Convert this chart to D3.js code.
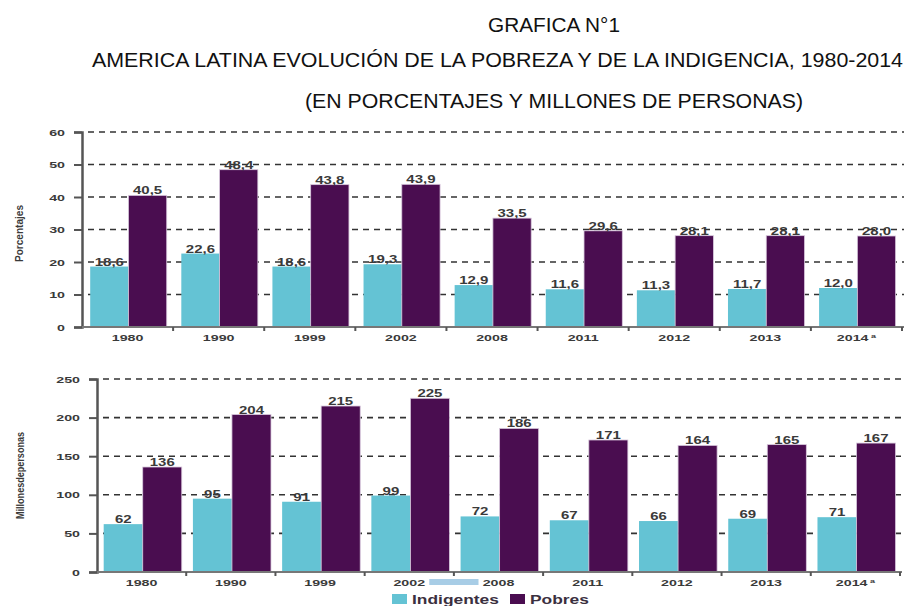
<!DOCTYPE html>
<html>
<head>
<meta charset="utf-8">
<script src="https://cdn.jsdelivr.net/npm/d3@7"></script>
<style>
  body { margin: 0; background: #fff; }
  svg { display: block; }
  text { font-family: "Liberation Sans", Arial, sans-serif; }
</style>
</head>
<body>
<svg id="chart" width="910" height="606"></svg>
<script>
var years = ["1980", "1990", "1999", "2002", "2008", "2011", "2012", "2013", "2014"];
var yearSup = ["", "", "", "", "", "", "", "", "a"];
var seriesNames = ["Indigentes", "Pobres"];
var colors = ["#64c3d4", "#4a0d50"];

// porcentajes
var pctIndigentes = [18.6, 22.6, 18.6, 19.3, 12.9, 11.6, 11.3, 11.7, 12.0];
var pctPobres = [40.5, 48.4, 43.8, 43.9, 33.5, 29.6, 28.1, 28.1, 28.0];
var pctTicks = [0, 10, 20, 30, 40, 50, 60];

// millones de personas
var milIndigentes = [62, 95, 91, 99, 72, 67, 66, 69, 71];
var milPobres = [136, 204, 215, 225, 186, 171, 164, 165, 167];
var milTicks = [0, 50, 100, 150, 200, 250];

var svg = d3.select("#chart");
var textColor = "#3a3a3a";
var stretch = 1.5;

// titles
var titles = [
    {t: "GRAFICA N°1", x: 488, y: 32, len: 132},
    {t: "AMERICA LATINA EVOLUCIÓN DE LA POBREZA Y DE LA INDIGENCIA, 1980-2014", x: 92, y: 67, len: 811},
    {t: "(EN PORCENTAJES Y MILLONES DE PERSONAS)", x: 305, y: 108, len: 498}
];
svg.selectAll("text.title")
    .data(titles).enter()
    .append("text")
    .attr("class", "title")
    .attr("x", function (d) { return d.x; })
    .attr("y", function (d) { return d.y; })
    .attr("textLength", function (d) { return d.len; })
    .attr("lengthAdjust", "spacingAndGlyphs")
    .style("font-size", "19.5px")
    .style("fill", "#111")
    .text(function (d) { return d.t; });

// stretched small text, like the blurry original
function wideText(g, x, y, str, size, anchor) {
    var t = g.append("text")
        .attr("transform", "translate(" + x + "," + y + ") scale(" + stretch + ",1)")
        .attr("text-anchor", anchor || "middle")
        .style("font-size", size + "px")
        .style("font-weight", "bold")
        .style("fill", textColor)
        .text(str);
    return t;
}

function drawPanel(opt) {
    var g = svg.append("g");
    var x0 = d3.scaleBand().domain(years).range([opt.left, opt.right]).padding(0);
    var bw = x0.bandwidth();
    var x1 = d3.scaleBand().domain(seriesNames).range([bw * opt.padL, bw * opt.padR]).padding(0);
    var y = d3.scaleLinear().domain([0, opt.max]).range([opt.bottom, opt.top]);

    // dashed grid
    g.selectAll("line.grid")
        .data(opt.ticks.filter(function (v) { return v > 0; })).enter()
        .append("line")
        .attr("x1", opt.left + 6)
        .attr("x2", opt.right + 2)
        .attr("y1", function (d) { return y(d); })
        .attr("y2", function (d) { return y(d); })
        .style("stroke", "#333")
        .style("stroke-width", 1.6)
        .style("stroke-dasharray", "6,5");

    // bars
    var rows = years.map(function (yr, i) {
        return {year: yr, vals: [opt.a[i], opt.b[i]]};
    });
    var groups = g.selectAll("g.year")
        .data(rows).enter()
        .append("g")
        .attr("transform", function (d) { return "translate(" + x0(d.year) + ",0)"; });

    groups.selectAll("rect")
        .data(function (d) { return d.vals.map(function (v, k) { return {s: seriesNames[k], v: v, k: k}; }); })
        .enter()
        .append("rect")
        .attr("x", function (d) { return x1(d.s); })
        .attr("y", function (d) { return y(d.v); })
        .attr("width", x1.bandwidth())
        .attr("height", function (d) { return y(0) - y(d.v); })
        .style("fill", function (d) { return colors[d.k]; })
        .style("stroke", function (d) { return d.k ? "#d8c8dc" : "none"; })
        .style("stroke-width", 0.8);

    groups.each(function (d) {
        var gg = d3.select(this);
        d.vals.forEach(function (v, k) {
            wideText(gg, x1(seriesNames[k]) + x1.bandwidth() / 2, y(v) - 1, opt.fmt(v), 10);
        });
    });

    // y axis
    var yAxis = d3.axisLeft(y).tickValues(opt.ticks).tickSize(8).tickFormat("");
    var ya = g.append("g").attr("transform", "translate(" + opt.left + ",0)").call(yAxis);
    ya.select(".domain").style("stroke", "#555").style("stroke-width", 2.5);
    ya.selectAll(".tick line").style("stroke", "#555").style("stroke-width", 2);
    opt.ticks.forEach(function (v) {
        wideText(g, opt.left - 17, y(v) + 3.5, String(v), 9.5, "end");
    });

    // x axis with ticks at band edges
    g.append("line")
        .attr("x1", opt.left).attr("x2", opt.right + 2)
        .attr("y1", y(0)).attr("y2", y(0))
        .style("stroke", "#777").style("stroke-width", 2);
    g.selectAll("line.xt")
        .data(years.slice(1).concat(["end"])).enter()
        .append("line")
        .attr("x1", function (d) { return d === "end" ? opt.right : x0(d); })
        .attr("x2", function (d) { return d === "end" ? opt.right : x0(d); })
        .attr("y1", y(0)).attr("y2", y(0) + 4)
        .style("stroke", "#555").style("stroke-width", 2);

    years.forEach(function (yr, i) {
        var cx = x0(yr) + bw / 2;
        var t = wideText(g, cx, opt.bottom + 14, yr, 9.5);
        if (yearSup[i]) {
            t.append("tspan").attr("dy", -3).style("font-size", "6px").text(" " + yearSup[i]);
        }
    });

    // y title
    g.append("text")
        .attr("transform", "translate(" + opt.titleX + "," + ((opt.top + opt.bottom) / 2 + opt.titleDy) + ") rotate(-90)")
        .attr("text-anchor", "middle")
        .attr("textLength", opt.titleLen)
        .attr("lengthAdjust", "spacingAndGlyphs")
        .style("font-size", "10px")
        .style("font-weight", "bold")
        .style("fill", textColor)
        .text(opt.title);

    return {x0: x0, y: y};
}

drawPanel({
    left: 82, right: 902, top: 132, bottom: 327,
    max: 60, ticks: pctTicks, a: pctIndigentes, b: pctPobres,
    padL: 0.09, padR: 0.93,
    fmt: function (v) { return d3.format(".1f")(v).replace(".", ","); },
    title: "Porcentajes", titleX: 23, titleDy: 4, titleLen: 57
});

var bottomPanel = drawPanel({
    left: 97, right: 900, top: 379, bottom: 572,
    max: 250, ticks: milTicks, a: milIndigentes, b: milPobres,
    padL: 0.075, padR: 0.95,
    fmt: function (v) { return String(v); },
    title: "Millonesdepersonas", titleX: 24, titleDy: 0, titleLen: 87
});

// faint highlight smear between 2002 and 2008 labels, as in the scan
var hb = bottomPanel.x0.bandwidth();
svg.append("rect")
    .attr("x", bottomPanel.x0("2002") + hb / 2 + 20)
    .attr("y", 579)
    .attr("width", bottomPanel.x0("2008") - bottomPanel.x0("2002") - 40)
    .attr("height", 6)
    .style("fill", "#a8cde6");

// legend
var legend = svg.append("g").attr("transform", "translate(392,594)");
var legendX = [0, 118];
seriesNames.forEach(function (s, i) {
    legend.append("rect")
        .attr("x", legendX[i]).attr("y", 0)
        .attr("width", 15).attr("height", 10)
        .style("fill", colors[i]);
    legend.append("text")
        .attr("transform", "translate(" + (legendX[i] + 20) + ",10) scale(1.45,1)")
        .style("font-size", "12px")
        .style("font-weight", "bold")
        .style("fill", "#3b3040")
        .text(s);
});
</script>
</body>
</html>
